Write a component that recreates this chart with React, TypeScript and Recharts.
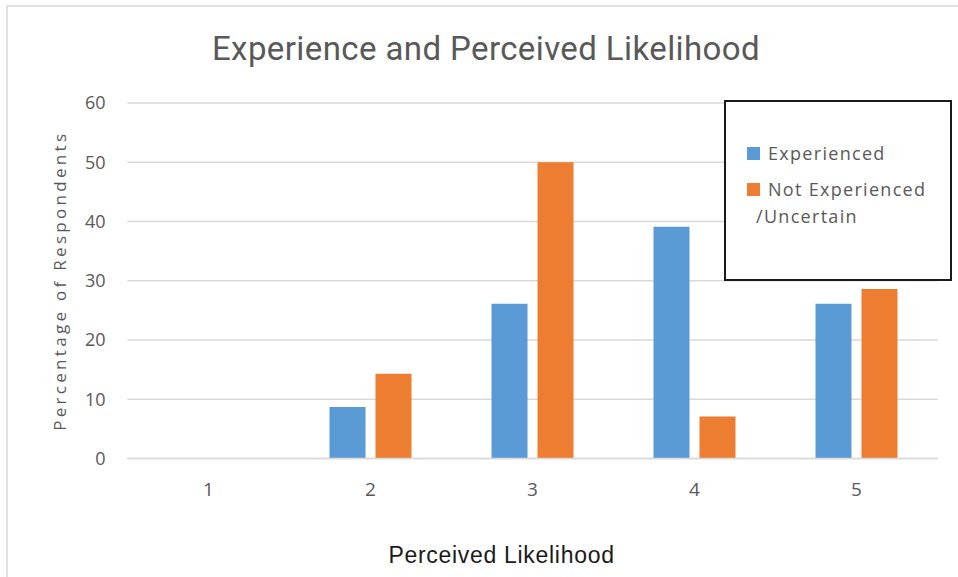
import React from 'react';
import { BarChart, Bar, XAxis, YAxis, CartesianGrid, Legend } from 'recharts';

// Perceived likelihood rating (1 = least likely, 5 = most likely)
const categories = ['1', '2', '3', '4', '5'];
// Percentage of respondents in each group choosing each rating
const experiencedValues = [0, 8.7, 26.1, 39.1, 26.1];
const notExperiencedValues = [0, 14.3, 50.0, 7.1, 28.6];
const yTicks = [0, 10, 20, 30, 40, 50, 60];

const seriesNames = {
  experienced: 'Experienced',
  notExperienced: 'Not Experienced /Uncertain',
};

const data = categories.map((c, i) => ({
  rating: c,
  experienced: experiencedValues[i],
  notExperienced: notExperiencedValues[i],
}));

const BLUE = '#5B9BD5';
const ORANGE = '#ED7D31';
const TEXT_GRAY = '#595959';
const GRID = '#d9d9d9';
const SANS = '"Open Sans", "DejaVu Sans", sans-serif';

const YAxisTitle = (props: any) => {
  const vb = props.viewBox || { x: 0, y: 0, width: 0, height: 0 };
  const cx = vb.x + 66;
  const cy = vb.y + vb.height / 2;
  return (
    <text
      x={cx}
      y={cy}
      transform={`rotate(-90 ${cx} ${cy})`}
      textAnchor="middle"
      fill={TEXT_GRAY}
      style={{ fontFamily: SANS, fontSize: 17, letterSpacing: 3.3 }}
    >
      Percentage of Respondents
    </text>
  );
};

const LegendBox = (props: any) => {
  const payload = props.payload || [];
  return (
    <div
      style={{
        position: 'relative',
        boxSizing: 'border-box',
        width: 228,
        height: 181,
        border: '2px solid #1a1a1a',
        background: '#fff',
      }}
    >
      {payload.map((entry: any, i: number) => (
        <div
          key={entry.value}
          style={{
            position: 'absolute',
            left: 30,
            top: 38 + i * 36,
            width: 190,
            textIndent: -9,
            fontFamily: SANS,
            fontSize: 18,
            lineHeight: '27px',
            letterSpacing: 1.3,
            color: TEXT_GRAY,
            textAlign: 'left',
          }}
        >
          <span
            style={{
              display: 'inline-block',
              width: 13,
              height: 13,
              background: entry.color,
              marginRight: 8,
              verticalAlign: 'baseline',
            }}
          />
          {entry.value}
        </div>
      ))}
    </div>
  );
};

export default function App() {
  return (
    <div
      style={{
        position: 'absolute',
        left: 0,
        top: 0,
        width: 958,
        height: 577,
        overflow: 'hidden',
        background: '#fff',
      }}
    >
      <div
        style={{
          position: 'absolute',
          left: 6,
          top: 5,
          width: 1000,
          height: 700,
          border: '2px solid #e2e2e2',
        }}
      />
      <div
        style={{
          position: 'absolute',
          left: 0,
          top: 32,
          width: 972,
          textAlign: 'center',
          fontFamily: 'Roboto, "Open Sans", sans-serif',
          fontSize: 33,
          lineHeight: '33px',
          letterSpacing: 0.4,
          color: TEXT_GRAY,
          whiteSpace: 'nowrap',
        }}
      >
        Experience and Perceived Likelihood
      </div>
      <div style={{ position: 'absolute', left: 0, top: 0 }}>
        <BarChart
          width={958}
          height={577}
          data={data}
          margin={{ top: 103, right: 20.5, bottom: 58.5, left: 0 }}
          barSize={36}
          barGap={10}
        >
          <CartesianGrid vertical={false} stroke={GRID} strokeWidth={1.5} />
          <XAxis
            dataKey="rating"
            height={60}
            axisLine={{ stroke: GRID, strokeWidth: 1.5 }}
            tickLine={false}
            tickSize={0}
            tickMargin={24}
            tick={{ fill: TEXT_GRAY, fontSize: 19, fontFamily: SANS }}
            label={{
              value: 'Perceived Likelihood',
              position: 'insideBottom',
              offset: -44.5,
              dx: -31,
              style: {
                fill: '#1a1a1a',
                fontSize: 23,
                letterSpacing: 0.7,
                fontFamily: '"Liberation Sans", Arial, sans-serif',
              },
            }}
          />
          <YAxis
            width={127.5}
            domain={[0, 60]}
            ticks={yTicks}
            interval={0}
            axisLine={false}
            tickLine={false}
            tickSize={0}
            tickMargin={22}
            tick={{ fill: TEXT_GRAY, fontSize: 18, fontFamily: SANS }}
            label={<YAxisTitle />}
          />
          <Legend
            layout="horizontal"
            verticalAlign="middle"
            align="center"
            wrapperStyle={{ left: 724, top: 100, width: 228, height: 181 }}
            content={<LegendBox />}
          />
          <Bar
            dataKey="experienced"
            name={seriesNames.experienced}
            fill={BLUE}
            isAnimationActive={false}
          />
          <Bar
            dataKey="notExperienced"
            name={seriesNames.notExperienced}
            fill={ORANGE}
            isAnimationActive={false}
          />
        </BarChart>
      </div>
    </div>
  );
}
